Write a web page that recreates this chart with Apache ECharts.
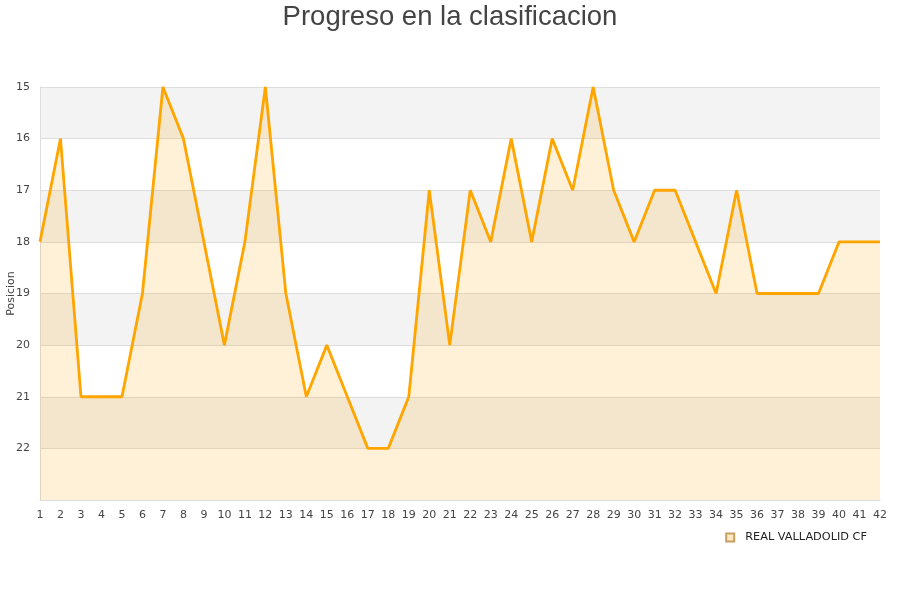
<!DOCTYPE html>
<html><head><meta charset="utf-8">
<script src="https://cdn.jsdelivr.net/npm/echarts@6/dist/echarts.min.js"></script>
<style>html,body{margin:0;padding:0;background:#fff}#c{width:900px;height:600px}</style>
</head><body><div id="c"></div>
<script>
const jornadas = ['1','2','3','4','5','6','7','8','9','10','11','12','13','14','15','16','17','18','19','20','21','22','23','24','25','26','27','28','29','30','31','32','33','34','35','36','37','38','39','40','41','42'];
const posiciones = [18,16,21,21,21,19,15,16,18,20,18,15,19,21,20,21,22,22,21,17,20,17,18,16,18,16,17,15,17,18,17,17,18,19,17,19,19,19,19,18,18,18];
const equipo = 'REAL VALLADOLID CF';
const titulo = 'Progreso en la clasificacion';

const chart = echarts.init(document.getElementById('c'));
chart.setOption({
  animation: false,
  title: { text: titulo, left: 'center', top: -2,
    textStyle: { fontFamily: 'Liberation Sans', fontSize: 27.5, fontWeight: 'normal', color: '#444' } },
  legend: { data: [equipo], right: 28, top: 527, itemWidth: 8, itemHeight: 8, icon: 'rect', itemGap: 10,
    textStyle: { fontFamily: 'DejaVu Sans', fontSize: 11.3, color: '#222', padding: [0, 0, 0, 6] } },
  grid: { left: 40, right: 20, top: 87, bottom: 100, containLabel: false, outerBoundsMode: 'none' },
  xAxis: { type: 'category', data: jornadas, boundaryGap: false,
    axisLine: { lineStyle: { color: '#ddd' } }, axisTick: { show: false },
    axisLabel: { fontFamily: 'DejaVu Sans', fontSize: 11, color: '#444', margin: 10, interval: 0 },
    splitLine: { show: false } },
  yAxis: { type: 'value', inverse: true, min: 15, max: 23, interval: 1,
    name: 'Posicion', nameLocation: 'middle', nameGap: 23, nameMoveOverlap: false,
    nameTextStyle: { fontFamily: 'DejaVu Sans', fontSize: 11, color: '#444' },
    axisLine: { show: true, lineStyle: { color: '#ddd' } }, axisTick: { show: false },
    axisLabel: { fontFamily: 'DejaVu Sans', fontSize: 11, color: '#444', showMaxLabel: false, margin: 10 },
    splitLine: { show: true, lineStyle: { color: '#ddd' } },
    splitArea: { show: true, areaStyle: { color: ['#f3f3f3', '#ffffff'] } } },
  series: [{
    name: equipo, type: 'line', data: posiciones, symbol: 'none',
    lineStyle: { color: '#FFA500', width: 2.8 },
    itemStyle: { color: '#FFE9C2', borderColor: '#c8a060', borderWidth: 1 },
    areaStyle: { color: 'rgba(255,165,0,0.22)', origin: 'end' }
  }]
});
</script></body></html>
